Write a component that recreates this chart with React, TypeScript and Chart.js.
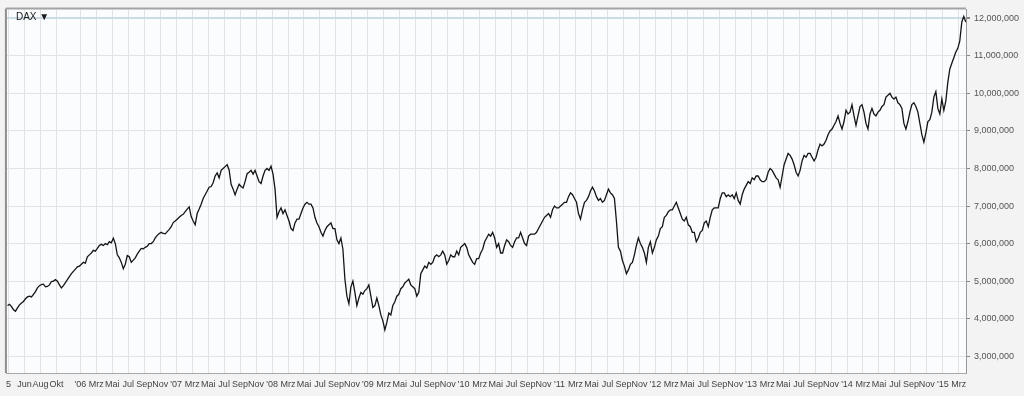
import { useEffect, useRef } from "react";
import { Chart, registerables } from "chart.js";

Chart.register(...registerables);

const seriesName = "DAX";
const titleText = "DAX \u25BC";

// Weekly closes (index points), 4 per month; first value = end of March 2005
const dax2005 = [
  4350,
  4380, 4320, 4240, 4200,
  4290, 4370, 4420, 4460,
  4530, 4580, 4600, 4580,
  4650, 4720, 4820, 4880,
  4910, 4920, 4850, 4860,
  4900, 4990, 5000, 5040,
  5000, 4900, 4820, 4880,
  4960, 5040, 5120, 5200,
  5260, 5320, 5380, 5400,
];
const dax2006 = [
  5450, 5500, 5480, 5650,
  5700, 5750, 5820, 5800,
  5870, 5950, 5980, 5950,
  6000, 5970, 6050, 6020,
  6140, 6000, 5700, 5620,
  5500, 5330, 5450, 5680,
  5650, 5500, 5560, 5620,
  5720, 5800, 5870, 5860,
  5900, 5930, 6000, 6000,
  6050, 6150, 6220, 6270,
  6300, 6270, 6260, 6320,
  6380, 6450, 6560, 6600,
];
const dax2007 = [
  6650, 6700, 6750, 6780,
  6850, 6920, 6980, 6720,
  6600, 6500, 6800, 6920,
  7050, 7200, 7300, 7400,
  7500, 7520, 7620, 7800,
  7880, 7750, 7950, 8000,
  8050, 8100, 7960, 7580,
  7450, 7300, 7450, 7580,
  7520, 7480, 7650, 7860,
  7900, 7950, 7850, 7950,
  7800, 7650, 7600, 7800,
  7950, 8000, 7950, 8060,
];
const dax2008 = [
  7850, 7450, 6700, 6850,
  6950, 6800, 6900, 6750,
  6600, 6400, 6350, 6550,
  6650, 6650, 6800, 6950,
  7050, 7100, 7050, 7050,
  6950, 6700, 6550, 6450,
  6300, 6200, 6350, 6450,
  6500, 6550, 6400, 6400,
  6100, 6000, 6150, 5850,
  5050, 4600, 4400, 4850,
  5000, 4700, 4350, 4550,
  4700, 4650, 4750, 4800,
];
const dax2009 = [
  4900, 4600, 4300, 4350,
  4550, 4350, 4100, 3950,
  3700, 3900, 4150, 4100,
  4350, 4450, 4600, 4650,
  4800, 4850, 4950, 5000,
  5050, 4900, 4850, 4800,
  4600, 4700, 5200, 5300,
  5400, 5350, 5500, 5450,
  5500, 5650, 5700, 5650,
  5700, 5800, 5700, 5450,
  5550, 5700, 5650, 5650,
  5800, 5700, 5900, 5950,
];
const dax2010 = [
  6000, 5900, 5700, 5600,
  5500, 5450, 5600, 5600,
  5750, 5850, 6050, 6150,
  6250, 6200, 6300, 6150,
  5900, 6000, 5750, 5750,
  5950, 6100, 6050, 5950,
  5900, 6050, 6150, 6150,
  6300, 6150, 6000, 5950,
  6200, 6250, 6250, 6250,
  6300, 6400, 6500, 6600,
  6700, 6750, 6800, 6700,
  6900, 7000, 6950, 6950,
];
const dax2011 = [
  7000, 7050, 7100, 7100,
  7250, 7350, 7300, 7200,
  7100, 6800, 6650, 6900,
  7100, 7150, 7250, 7400,
  7500, 7400, 7250, 7150,
  7200, 7100, 7150, 7300,
  7450, 7350, 7300, 7200,
  6600, 5900, 5800, 5550,
  5400, 5200, 5300, 5450,
  5500, 5700, 5950, 6150,
  6000, 5900, 5750, 5500,
  5900, 6050, 5750, 5900,
];
const dax2012 = [
  6100, 6200, 6400, 6450,
  6700, 6750, 6850, 6900,
  6900, 7000, 7100, 6950,
  6800, 6650, 6600, 6700,
  6500, 6450, 6300, 6300,
  6050, 6150, 6300, 6350,
  6550, 6600, 6450, 6700,
  6900, 6950, 6950, 6950,
  7200, 7350, 7350, 7250,
  7300, 7250, 7300, 7200,
  7350, 7150, 7050, 7300,
  7450, 7550, 7650, 7600,
];
const dax2013 = [
  7750, 7700, 7800, 7800,
  7700, 7650, 7650, 7700,
  7900, 8000, 7950, 7850,
  7750, 7700, 7500, 7800,
  8100, 8250, 8400, 8350,
  8250, 8100, 7900, 7800,
  7950, 8200, 8350, 8300,
  8400, 8400, 8300, 8200,
  8300, 8500, 8650, 8600,
  8650, 8750, 8900, 9000,
  9050, 9150, 9250, 9400,
  9200, 9050, 9250, 9550,
];
const dax2014 = [
  9450, 9500, 9700, 9400,
  9150, 9400, 9650, 9700,
  9500, 9200, 9050, 9450,
  9600, 9450, 9400, 9500,
  9550, 9650, 9700, 9900,
  9950, 10000, 9900, 9850,
  9900, 9750, 9700, 9600,
  9200, 9050, 9250, 9500,
  9700, 9750, 9650, 9500,
  9200, 8900, 8700, 8950,
  9250, 9300, 9500, 9900,
  10050, 9600, 9450, 9850,
];
const dax2015 = [
  9550, 9800, 10300, 10650,
  10800, 10950, 11100, 11200,
  11400, 11900, 12050, 11900,
];

const xTickDates = [
  "2005-04", "2005-06", "2005-08", "2005-10",
  "2006-01", "2006-03", "2006-05", "2006-07", "2006-09", "2006-11",
  "2007-01", "2007-03", "2007-05", "2007-07", "2007-09", "2007-11",
  "2008-01", "2008-03", "2008-05", "2008-07", "2008-09", "2008-11",
  "2009-01", "2009-03", "2009-05", "2009-07", "2009-09", "2009-11",
  "2010-01", "2010-03", "2010-05", "2010-07", "2010-09", "2010-11",
  "2011-01", "2011-03", "2011-05", "2011-07", "2011-09", "2011-11",
  "2012-01", "2012-03", "2012-05", "2012-07", "2012-09", "2012-11",
  "2013-01", "2013-03", "2013-05", "2013-07", "2013-09", "2013-11",
  "2014-01", "2014-03", "2014-05", "2014-07", "2014-09", "2014-11",
  "2015-01", "2015-03",
];
const xTickLabels = [
  "5", "Jun", "Aug", "Okt",
  "'06", "Mrz", "Mai", "Jul", "Sep", "Nov",
  "'07", "Mrz", "Mai", "Jul", "Sep", "Nov",
  "'08", "Mrz", "Mai", "Jul", "Sep", "Nov",
  "'09", "Mrz", "Mai", "Jul", "Sep", "Nov",
  "'10", "Mrz", "Mai", "Jul", "Sep", "Nov",
  "'11", "Mrz", "Mai", "Jul", "Sep", "Nov",
  "'12", "Mrz", "Mai", "Jul", "Sep", "Nov",
  "'13", "Mrz", "Mai", "Jul", "Sep", "Nov",
  "'14", "Mrz", "Mai", "Jul", "Sep", "Nov",
  "'15", "Mrz",
];
const yTickValues = [3000000, 4000000, 5000000, 6000000, 7000000, 8000000, 9000000, 10000000, 11000000, 12000000];
const yMin = 2554000;
const yMax = 12236000;
const xMin = -0.2;
const xMax = 119.9;

const FONT = '"Liberation Sans", Arial, Helvetica, sans-serif';

function monthIndex(d: string): number {
  const [y, m] = d.split("-").map(Number);
  return (y - 2005) * 12 + (m - 1) - 3;
}

const allValues = [
  ...dax2005, ...dax2006, ...dax2007, ...dax2008, ...dax2009,
  ...dax2010, ...dax2011, ...dax2012, ...dax2013, ...dax2014, ...dax2015,
];

const framePlugin = {
  id: "frame",
  beforeDraw(chart: any) {
    const { ctx, chartArea: a, width, height } = chart;
    ctx.save();
    ctx.fillStyle = "#f3f3f3";
    ctx.fillRect(0, 0, width, height);
    ctx.fillStyle = "#fbfcfe";
    ctx.fillRect(a.left, a.top, a.right - a.left, a.bottom - a.top);
    ctx.restore();
  },
  afterDraw(chart: any) {
    const { ctx, chartArea: a } = chart;
    ctx.save();
    ctx.strokeStyle = "#8e8e8e";
    ctx.lineWidth = 2;
    ctx.beginPath();
    ctx.moveTo(a.left - 1, a.top - 1);
    ctx.lineTo(a.left - 1, a.bottom);
    ctx.stroke();
    ctx.strokeStyle = "#a4a4a4";
    ctx.beginPath();
    ctx.moveTo(a.left - 1, a.top - 1);
    ctx.lineTo(a.right, a.top - 1);
    ctx.stroke();
    ctx.fillStyle = "#1a1a1a";
    ctx.font = "10px " + FONT;
    ctx.textBaseline = "alphabetic";
    ctx.textAlign = "left";
    ctx.fillText(titleText, a.left + 9, a.top + 11);
    ctx.restore();
  },
};

export default function App() {
  const ref = useRef<HTMLCanvasElement | null>(null);
  useEffect(() => {
    if (!ref.current) return;
    const points = allValues.map((v, i) => ({ x: -0.125 + 0.25 * i, y: v * 1000 }));
    const chart = new Chart(ref.current, {
      type: "line",
      data: {
        datasets: [
          {
            label: seriesName,
            data: points,
            borderColor: "#141414",
            borderWidth: 1.3,
            pointRadius: 0,
            tension: 0,
            fill: false,
          },
        ],
      },
      options: {
        animation: false,
        responsive: false,
        maintainAspectRatio: false,
        layout: { padding: { left: 5, top: 4, right: 0, bottom: 0 } },
        plugins: { legend: { display: false }, tooltip: { enabled: false } },
        scales: {
          x: {
            type: "linear",
            min: xMin,
            max: xMax,
            afterBuildTicks: (s: any) => {
              s.ticks = xTickDates.map((d) => ({ value: monthIndex(d) }));
            },
            ticks: {
              autoSkip: false,
              maxRotation: 0,
              minRotation: 0,
              padding: 6,
              color: "#444",
              font: { family: FONT, size: 9 },
              callback: (_v: any, i: number) => xTickLabels[i],
            },
            grid: { color: "#e3e3e3", lineWidth: 1, drawTicks: false },
            border: { color: "#a8a8a8", width: 1 },
            afterFit: (s: any) => {
              s.height = 23;
            },
          },
          y: {
            position: "right",
            min: yMin,
            max: yMax,
            afterBuildTicks: (s: any) => {
              s.ticks = yTickValues.map((v) => ({ value: v }));
            },
            ticks: {
              padding: 4,
              color: "#555",
              font: { family: FONT, size: 9 },
              callback: (v: any) => Number(v).toLocaleString("en-US"),
            },
            grid: {
              color: (c: any) => (c.tick && c.tick.value === 12000000 ? "#cbdce7" : "#e3e3e3"),
              lineWidth: (c: any) => (c.tick && c.tick.value === 12000000 ? 2 : 1),
              tickLength: 4,
              tickColor: "#888",
            },
            border: { color: "#999", width: 1 },
            afterFit: (s: any) => {
              s.width = 58;
            },
          },
        },
      },
      plugins: [framePlugin],
    });
    return () => chart.destroy();
  }, []);
  return (
    <div style={{ position: "fixed", left: 0, top: 0, width: 1024, height: 396 }}>
      <canvas ref={ref} width={1024} height={396} style={{ display: "block", width: 1024, height: 396 }} />
    </div>
  );
}
